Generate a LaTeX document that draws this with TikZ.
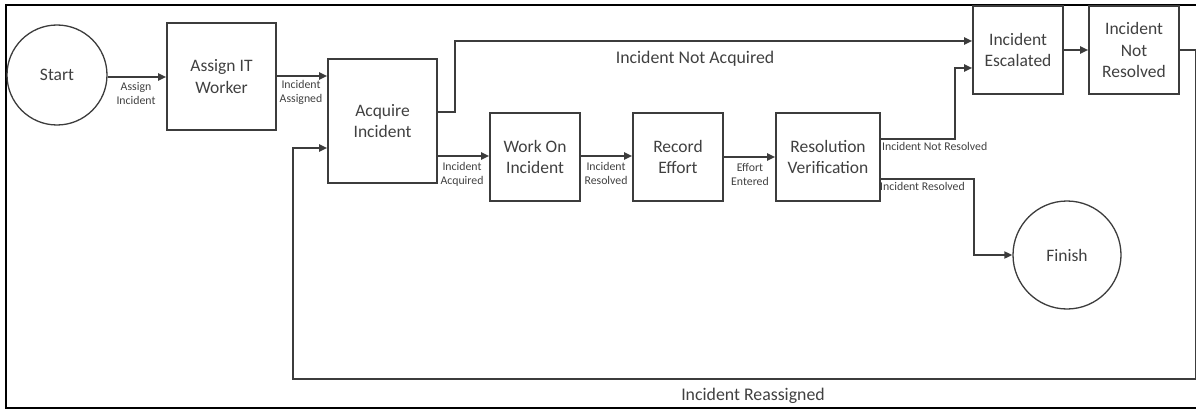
\documentclass[tikz,border=0pt]{standalone}
\usepackage{fontspec}
\setmainfont{Carlito}
\usetikzlibrary{arrows.meta}
\definecolor{ink}{HTML}{3C3C3C}
\definecolor{txt}{HTML}{404040}
\tikzset{
  stepbox/.style={draw=ink, line width=1.6pt, rectangle, align=center, text=txt,
    font=\fontsize{17.5}{21.5}\selectfont, inner sep=0pt},
  endcircle/.style={draw=ink, line width=1.3pt, circle, align=center, text=txt,
    font=\fontsize{17.5}{21.5}\selectfont, inner sep=0pt},
  conn/.style={draw=ink, line width=1.8pt, -{Triangle[length=8pt,width=7pt]}},
  small/.style={text=txt, align=center, font=\fontsize{11.8}{14}\selectfont, inner sep=0pt},
  big/.style={text=txt, align=center, font=\fontsize{17.8}{21}\selectfont, inner sep=0pt},
}
\begin{document}
\begin{tikzpicture}[x=1pt,y=-1pt]
\useasboundingbox (0,0) rectangle (1196,409);
% frame
\draw[black, line width=2.6pt] (1196,5) -- (6,5) -- (6,408) -- (1196,408);

% nodes
\node[endcircle, minimum size=100pt] (start) at (57,75) {Start};
\node[stepbox, minimum width=109pt, minimum height=107pt] (assign) at (221.5,76.5) {Assign IT\\Worker};
\node[stepbox, minimum width=109pt, minimum height=124pt] (acquire) at (382.5,121) {Acquire\\Incident};
\node[stepbox, minimum width=90pt, minimum height=88pt] (work) at (535,157) {Work On\\Incident};
\node[stepbox, minimum width=90pt, minimum height=88pt] (record) at (678,157) {Record\\Effort};
\node[stepbox, minimum width=104pt, minimum height=88pt] (res) at (828,157) {Resolution\\Verification};
\node[stepbox, minimum width=90pt, minimum height=88pt] (esc) at (1018,50) {Incident\\Escalated};
\node[stepbox, minimum width=90pt, minimum height=88pt] (notres) at (1134,50) {Incident\\Not\\Resolved};
\node[endcircle, minimum size=108pt] (finish) at (1067,255) {Finish};

% connectors
\draw[conn] (start.east |- 0,77) -- (assign.west |- 0,77);
\draw[conn] (assign.east |- 0,76) -- (acquire.west |- 0,76);
\draw[conn] (acquire.east |- 0,112) -- ++(17,0) |- (esc.west |- 0,41);
\draw[conn] (acquire.east |- 0,156) -- (work.west |- 0,156);
\draw[conn] (work.east |- 0,156) -- (record.west |- 0,156);
\draw[conn] (record.east |- 0,157) -- (res.west |- 0,157);
\draw[conn] (res.east |- 0,139) -- ++(74,0) |- (esc.west |- 0,68);
\draw[conn] (res.east |- 0,179) -- ++(93,0) |- (finish.west);
\draw[conn] (esc.east |- 0,50) -- (notres.west |- 0,50);
\draw[conn] (notres.east |- 0,50) -- ++(16,0) |- (293,379) |- (acquire.west |- 0,148);

% labels
\node[small] (l1) at (136,93) {Assign\\Incident};
\node[small] (l2) at (301,92) {Incident\\Assigned};
\node[big] (l3) at (695,59) {Incident Not Acquired};
\node[small] (l4) at (462,174) {Incident\\Acquired};
\node[small] (l5) at (606,173) {Incident\\Resolved};
\node[small] (l6) at (750,174) {Effort\\Entered};
\node[small, anchor=west] (l7) at (882,146) {Incident Not Resolved};
\node[small, anchor=west] (l8) at (880,186) {Incident Resolved};
\node[big] (l9) at (753,396) {Incident Reassigned};
\end{tikzpicture}
\end{document}
